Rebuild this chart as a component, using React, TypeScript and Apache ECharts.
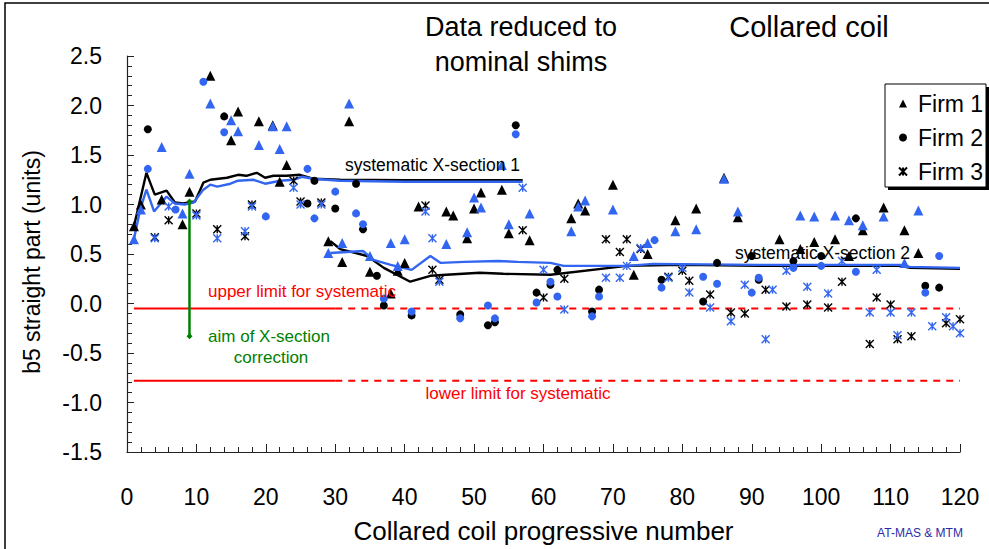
import React, { useEffect, useRef } from "react";
import * as echarts from "echarts";

const FONT = "'Liberation Sans', Arial, Helvetica, sans-serif";
const BLUE = "#3366f0";

// Firm 1 (triangles): coil number, value before (black) and after (blue)
const firm1Coils = [1, 2, 5, 8, 9, 12, 15, 16, 19, 21, 22, 23, 29, 31, 32, 35, 38, 39, 40, 42, 46, 47, 49, 50, 51, 54, 55, 58, 64, 65, 66, 70, 73, 75, 79, 82, 86, 88, 94, 97, 99, 102, 104, 106, 109, 112, 114];
const firm1Black = [0.78, 1.0, 1.05, 0.8, 1.13, 2.3, 1.65, 1.94, 1.84, 1.8, 1.23, 1.4, 0.63, 0.42, 1.84, 0.32, 0.1, 0.33, 0.41, 0.98, 0.93, 0.89, 0.66, 0.96, 1.12, 1.15, 0.71, 0.64, 0.86, 1.01, 0.94, 1.2, 0.29, 0.5, 0.84, 0.96, 1.27, 0.87, 0.65, 0.55, 0.62, 0.65, 0.48, 0.74, 0.97, 0.74, 0.51];
const firm1Blue = [0.65, 0.95, 1.58, 0.91, 1.31, 2.02, 1.85, 1.74, 1.6, 1.79, 1.56, 1.79, 0.51, 0.61, 2.02, 0.48, 0.61, 0.38, 0.65, null, 0.6, null, 0.72, 1.07, 0.97, 1.4, 0.8, 0.91, 0.73, 0.98, 1.04, 0.95, 0.48, 0.61, 0.73, 0.75, 1.26, 0.93, null, 0.89, 0.88, 0.89, 0.84, 0.79, 0.88, 0.41, 0.94];

// Firm 2 (circles)
const firm2Coils = [3, 7, 11, 14, 20, 26, 27, 30, 33, 34, 36, 37, 41, 48, 52, 53, 56, 59, 61, 62, 67, 68, 76, 77, 83, 85, 90, 91, 96, 100, 105, 115, 117];
const firm2Black = [1.76, null, null, 1.89, null, 1.01, 1.24, 0.96, 1.21, 0.75, 0.28, -0.02, -0.12, -0.11, -0.22, -0.19, 1.8, 0.11, 0.19, 0.34, -0.08, 0.14, null, 0.24, 0.02, 0.41, 0.48, 0.24, 0.43, 0.48, 0.86, 0.18, 0.16];
const firm2Blue = [1.36, 0.95, 2.24, 1.73, 0.88, 1.36, 0.86, 1.13, 0.91, 0.8, null, 0.05, -0.08, -0.15, -0.02, -0.15, 1.71, 0.01, 0.22, 0.07, -0.13, 0.07, 0.64, 0.16, 0.27, 0.2, 0.11, 0.26, 0.36, 0.38, 0.32, 0.11, 0.48];

// Firm 3 (asterisks)
const firm3Coils = [4, 6, 10, 13, 17, 18, 24, 25, 28, 43, 44, 45, 57, 60, 63, 69, 71, 72, 74, 78, 80, 81, 84, 87, 89, 92, 93, 95, 98, 101, 103, 107, 108, 110, 111, 113, 116, 118, 119, 120];
const firm3Black = [0.67, 0.84, 0.91, 0.75, 0.68, 1.0, 1.24, 1.03, 1.02, 0.99, 0.34, 0.24, 0.74, 0.06, 0.25, 0.65, 0.52, 0.65, 0.55, 0.27, 0.33, 0.23, 0.09, -0.09, -0.1, 0.14, null, -0.03, -0.01, -0.04, 0.22, -0.41, 0.06, -0.01, -0.36, -0.33, null, -0.2, null, -0.16];
const firm3Blue = [0.66, 0.98, 0.89, 0.66, 0.73, 0.98, 1.17, 1.0, 1.0, 0.93, 0.66, 0.22, 1.17, 0.34, -0.06, 0.26, 0.26, 0.38, 0.56, 0.26, 0.36, 0.11, -0.04, -0.18, 0.19, -0.36, 0.14, 0.33, 0.17, 0.1, 0.43, -0.09, 0.34, -0.09, -0.32, -0.09, -0.23, -0.14, -0.23, -0.3];

// Systematic X-section 1 running lines
const xs1BlackX = [1, 2.8, 4, 5.7, 6.9, 8.1, 9.8, 11, 12, 14.4, 16, 17.2, 18.7, 19.9, 21.1, 23, 24.9, 26.8, 30.7, 40, 50, 57];
const xs1BlackY = [0.78, 1.32, 1.1, 1.14, 1.02, 1.01, 1.03, 1.22, 1.25, 1.27, 1.3, 1.29, 1.32, 1.27, 1.29, 1.29, 1.3, 1.26, 1.25, 1.245, 1.245, 1.245];
const xs1BlueX = [1, 1.9, 2.8, 3.9, 5.7, 6.9, 8.3, 9.6, 11, 12, 13, 14.9, 16, 18.2, 19.9, 22.1, 24, 25.2, 26.8, 30.7, 40, 50, 57];
const xs1BlueY = [0.65, 0.95, 1.15, 0.93, 1.08, 1.01, 1.0, 1.02, 1.15, 1.2, 1.18, 1.21, 1.24, 1.25, 1.21, 1.24, 1.25, 1.28, 1.26, 1.24, 1.23, 1.23, 1.23];

// Systematic X-section 2 running lines
const xs2BlackX = [29.3, 30.7, 34.6, 37, 40.8, 43.7, 46, 50.8, 54.2, 61, 72, 80, 91, 111.4, 112.8, 120];
const xs2BlackY = [0.63, 0.55, 0.48, 0.36, 0.22, 0.28, 0.29, 0.31, 0.3, 0.29, 0.38, 0.39, 0.38, 0.38, 0.36, 0.35];
const xs2BlueX = [29.3, 34, 35.5, 38, 41, 43.7, 45.2, 48.6, 53.4, 56.3, 61, 62.9, 72, 75.8, 91, 111.4, 112.8, 120];
const xs2BlueY = [0.51, 0.53, 0.44, 0.39, 0.34, 0.48, 0.41, 0.42, 0.43, 0.42, 0.41, 0.38, 0.38, 0.4, 0.39, 0.39, 0.37, 0.36];

// Limits and aim
const upperLimit = -0.05;
const lowerLimit = -0.78;
const limitSolidX = [1, 30];
const limitDashedX = [30, 120];
const aimCoil = 9;
const aimFrom = 1.03;
const aimTo = -0.33;

// Axis ticks
const xTicks = { min: 0, max: 120, interval: 10 };
const yTicks = { min: -1.5, max: 2.5, interval: 0.5 };

const ASTERISK = "path://M0,0L10,10M10,0L0,10M5,0L5,10";

function pairs(xs: number[], ys: (number | null)[]) {
  return xs.map((x, i) => [x, ys[i] === null ? "-" : ys[i]]);
}

export default function App() {
  const ref = useRef<HTMLDivElement>(null);
  useEffect(() => {
    if (!ref.current) return;
    const chart = echarts.init(ref.current, undefined, { renderer: "svg" });

    const fillStyle = (c: string) => ({ color: c, opacity: 1 });
    const astStyle = (c: string) => ({ color: c, borderColor: c, borderWidth: 1.4, opacity: 1 });

    const lineSeries = (name: string, xs: number[], ys: number[], color: string) => ({
      name,
      type: "line",
      data: pairs(xs, ys),
      showSymbol: false,
      symbol: "none",
      lineStyle: { color, width: 2.4 },
      z: 2,
      silent: true,
    });

    const option: any = {
      animation: false,
      backgroundColor: "#fff",
      textStyle: { fontFamily: FONT },
      grid: { left: 127, right: 29, top: 56, bottom: 97, containLabel: false },
      xAxis: {
        type: "value",
        min: xTicks.min,
        max: xTicks.max,
        interval: xTicks.interval,
        name: "Collared coil progressive number",
        nameLocation: "middle",
        nameGap: 66,
        nameTextStyle: { fontSize: 26, color: "#000", fontFamily: FONT },
        axisLine: { show: true, onZero: false, lineStyle: { color: "#222", width: 1.2 } },
        axisTick: { show: true, inside: true, length: 8, lineStyle: { color: "#222" } },
        minorTick: { show: true, splitNumber: 5, length: 5, lineStyle: { color: "#222" } },
        splitLine: { show: false },
        axisLabel: { fontSize: 23, color: "#000", margin: 33, fontFamily: FONT },
      },
      yAxis: {
        type: "value",
        min: yTicks.min,
        max: yTicks.max,
        interval: yTicks.interval,
        axisLine: { show: true, onZero: false, lineStyle: { color: "#222", width: 1.2 } },
        axisTick: { show: true, inside: true, length: 7, lineStyle: { color: "#222" } },
        minorTick: { show: true, splitNumber: 5, length: 5, lineStyle: { color: "#222" } },
        splitLine: { show: false },
        axisLabel: {
          fontSize: 23,
          color: "#000",
          margin: 25,
          fontFamily: FONT,
          formatter: (v: number) => v.toFixed(1),
        },
      },
      legend: {
        orient: "vertical",
        left: 893,
        top: 87,
        itemWidth: 8,
        itemHeight: 8,
        itemGap: 11,
        z: 10,
        data: ["Firm 1", "Firm 2", "Firm 3"],
        textStyle: { fontSize: 23, color: "#000", fontFamily: FONT, padding: [0, 0, 0, 6] },
      },
      series: [
        {
          name: "upper solid",
          type: "line",
          data: limitSolidX.map((x) => [x, upperLimit]),
          symbol: "none",
          lineStyle: { color: "#ff0000", width: 2 },
          silent: true,
          z: 1,
        },
        {
          name: "upper dashed",
          type: "line",
          data: limitDashedX.map((x) => [x, upperLimit]),
          symbol: "none",
          lineStyle: { color: "#ff0000", width: 2, type: [7, 6] },
          silent: true,
          z: 1,
        },
        {
          name: "lower solid",
          type: "line",
          data: limitSolidX.map((x) => [x, lowerLimit]),
          symbol: "none",
          lineStyle: { color: "#ff0000", width: 2 },
          silent: true,
          z: 1,
        },
        {
          name: "lower dashed",
          type: "line",
          data: limitDashedX.map((x) => [x, lowerLimit]),
          symbol: "none",
          lineStyle: { color: "#ff0000", width: 2, type: [7, 6] },
          silent: true,
          z: 1,
        },
        lineSeries("xs1 black", xs1BlackX, xs1BlackY, "#000"),
        lineSeries("xs1 blue", xs1BlueX, xs1BlueY, BLUE),
        lineSeries("xs2 black", xs2BlackX, xs2BlackY, "#000"),
        lineSeries("xs2 blue", xs2BlueX, xs2BlueY, BLUE),
        {
          name: "Firm 1",
          type: "scatter",
          symbol: "triangle",
          symbolSize: 10,
          itemStyle: fillStyle("#000"),
          data: pairs(firm1Coils, firm1Black),
          z: 3,
        },
        {
          name: "Firm 2",
          type: "scatter",
          symbol: "circle",
          symbolSize: 8,
          itemStyle: fillStyle("#000"),
          data: pairs(firm2Coils, firm2Black),
          z: 3,
        },
        {
          name: "Firm 3",
          type: "scatter",
          symbol: ASTERISK,
          symbolSize: 8,
          itemStyle: astStyle("#000"),
          data: pairs(firm3Coils, firm3Black),
          z: 3,
        },
        {
          name: "Firm 1 reduced",
          type: "scatter",
          symbol: "triangle",
          symbolSize: 10,
          itemStyle: fillStyle(BLUE),
          data: pairs(firm1Coils, firm1Blue),
          z: 4,
        },
        {
          name: "Firm 2 reduced",
          type: "scatter",
          symbol: "circle",
          symbolSize: 8,
          itemStyle: fillStyle(BLUE),
          data: pairs(firm2Coils, firm2Blue),
          z: 4,
        },
        {
          name: "Firm 3 reduced",
          type: "scatter",
          symbol: ASTERISK,
          symbolSize: 8,
          itemStyle: astStyle(BLUE),
          data: pairs(firm3Coils, firm3Blue),
          z: 4,
        },
        {
          name: "aim",
          type: "line",
          data: [
            [aimCoil, aimFrom],
            [aimCoil, aimTo],
          ],
          symbol: "diamond",
          symbolSize: 6,
          showSymbol: true,
          itemStyle: { color: "#008000" },
          lineStyle: { color: "#008000", width: 2.5 },
          silent: true,
          z: 5,
        },
      ],
      graphic: [
        {
          type: "rect",
          z: -1,
          shape: { x: 5, y: 3, width: 1000, height: 560 },
          style: { fill: "none", stroke: "#000", lineWidth: 1.5 },
          silent: true,
        },
        {
          type: "rect",
          z: 8,
          shape: { x: 888, y: 87, width: 101, height: 103 },
          style: { fill: "#000" },
        },
        {
          type: "rect",
          z: 9,
          shape: { x: 885, y: 84, width: 101, height: 103 },
          style: { fill: "#fff", stroke: "#000", lineWidth: 1 },
        },
        {
          type: "text",
          z: 10,
          x: 521,
          y: 27,
          style: { text: "Data reduced to", fontSize: 27, fontFamily: FONT, fill: "#000", align: "center", verticalAlign: "middle" },
        },
        {
          type: "text",
          z: 10,
          x: 521,
          y: 62,
          style: { text: "nominal shims", fontSize: 27, fontFamily: FONT, fill: "#000", align: "center", verticalAlign: "middle" },
        },
        {
          type: "text",
          z: 10,
          x: 809,
          y: 27,
          style: { text: "Collared coil", fontSize: 29, fontFamily: FONT, fill: "#000", align: "center", verticalAlign: "middle" },
        },
        {
          type: "text",
          z: 10,
          x: 32,
          y: 262,
          rotation: Math.PI / 2,
          style: { text: "b5 straight part (units)", fontSize: 23, fontFamily: FONT, fill: "#000", align: "center", verticalAlign: "middle" },
        },
        {
          type: "text",
          z: 10,
          x: 345,
          y: 165,
          style: { text: "systematic X-section 1", fontSize: 17.5, fontFamily: FONT, fill: "#000", align: "left", verticalAlign: "middle" },
        },
        {
          type: "text",
          z: 10,
          x: 735,
          y: 253,
          style: { text: "systematic X-section 2", fontSize: 17.5, fontFamily: FONT, fill: "#000", align: "left", verticalAlign: "middle" },
        },
        {
          type: "text",
          z: 10,
          x: 208,
          y: 291,
          style: { text: "upper limit for systematic", fontSize: 17, fontFamily: FONT, fill: "#ff0000", align: "left", verticalAlign: "middle" },
        },
        {
          type: "text",
          z: 10,
          x: 518,
          y: 393,
          style: { text: "lower limit for systematic", fontSize: 17, fontFamily: FONT, fill: "#ff0000", align: "center", verticalAlign: "middle" },
        },
        {
          type: "text",
          z: 10,
          x: 269,
          y: 336,
          style: { text: "aim of X-section", fontSize: 17, fontFamily: FONT, fill: "#008000", align: "center", verticalAlign: "middle" },
        },
        {
          type: "text",
          z: 10,
          x: 271,
          y: 357,
          style: { text: "correction", fontSize: 17, fontFamily: FONT, fill: "#008000", align: "center", verticalAlign: "middle" },
        },
        {
          type: "text",
          z: 10,
          x: 920,
          y: 533,
          style: { text: "AT-MAS & MTM", fontSize: 12, fontFamily: FONT, fill: "#2b2ba8", align: "center", verticalAlign: "middle" },
        },
      ],
    };
    chart.setOption(option);
    return () => chart.dispose();
  }, []);

  return (
    <div
      ref={ref}
      style={{ position: "fixed", left: 0, top: 0, width: 989, height: 549, background: "#fff" }}
    />
  );
}
